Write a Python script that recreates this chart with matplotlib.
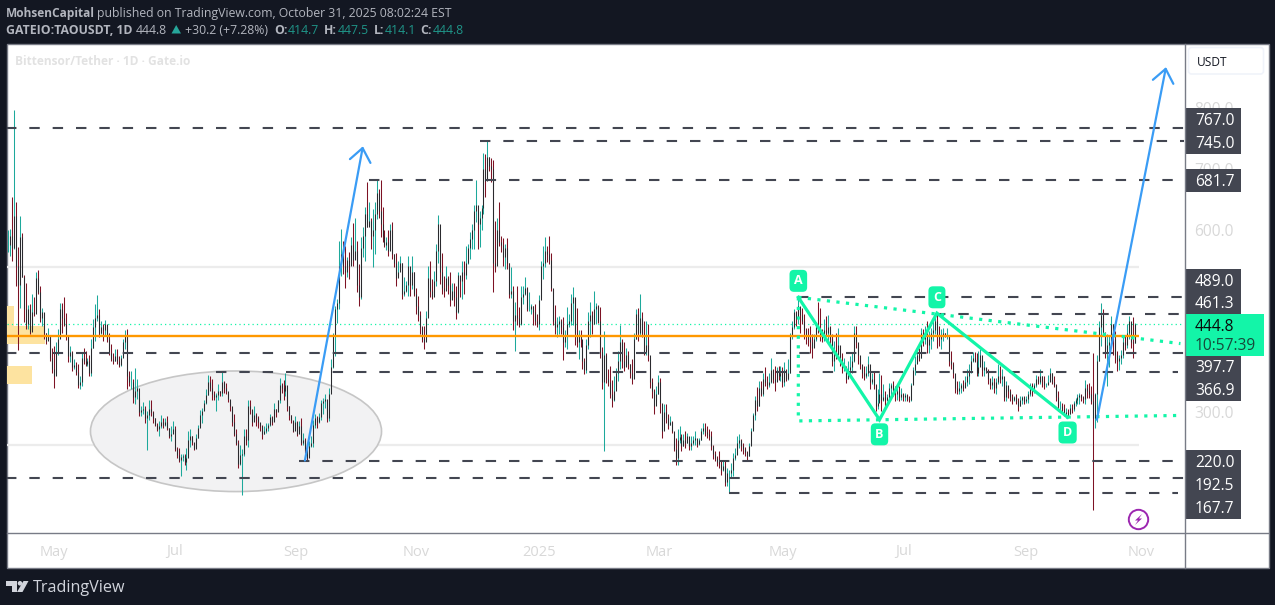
import matplotlib
matplotlib.use('Agg')
import matplotlib.pyplot as plt
import numpy as np
from matplotlib.patches import Circle, Ellipse, Polygon, Rectangle, FancyBboxPatch

plt.rcParams['font.family'] = ['Open Sans', 'DejaVu Sans']

# daily bars, TAO/USDT
highs = [
    600,601,654,797,646,572,623,595,525,512, 476,478,494,489,531,534,508,472,463,431,
    438,426,406,409,415,437,480,479,489,463, 426,409,401,387,382,379,360,398,406,401,
    390,395,420,453,478,493,470,450,445,451, 439,431,413,398,404,404,392,395,420,435,
    437,368,368,355,373,355,324,310,317,310, 302,321,320,302,291,283,286,295,291,291,
    294,275,277,286,277,244,242,231,232,231, 242,269,272,261,250,264,280,304,308,321,
    338,361,360,355,335,332,347,335,368,352, 348,330,321,305,297,272,255,247,240,272,
    272,320,321,302,311,299,294,283,280,277, 282,282,298,294,315,305,321,357,349,354,
    364,327,311,295,286,294,286,286,290,266, 258,250,253,261,288,297,294,299,321,324,
    330,308,340,387,431,475,486,582,601,582, 574,555,563,588,611,620,582,544,588,604,
    637,679,645,620,634,645,684,667,681,637, 599,588,599,610,612,560,562,549,557,546,
    522,516,557,519,557,530,505,491,467,442, 442,467,541,549,519,533,577,624,577,562,
    524,540,524,530,513,513,508,530,522,549, 549,574,577,596,610,640,681,629,631,640,
    726,725,747,719,717,714,615,620,645,589, 587,577,587,545,539,507,481,507,473,507,
    508,522,506,497,478,474,478,461,492,548, 574,588,574,590,561,503,477,456,459,453,
    457,435,473,461,495,506,488,471,435,435, 406,390,421,465,481,466,500,479,476,473,
    407,434,398,371,377,353,360,373,401,443, 420,415,406,401,379,387,431,470,471,494,
    465,450,450,445,390,357,338,343,362,357, 299,313,313,297,294,286,258,258,272,277,
    264,264,269,266,255,261,261,269,255,258, 275,282,282,277,272,269,246,236,228,236,
    222,222,222,209,206,217,233,242,261, 264,257,250,244,236,250,275,299,327,341,
    351,351,364,375,360,365,390,371,376,375, 376,376,374,382,371,387,431,450,470,467,489,
    472,471,461,439,439,442,428,428,448,481, 472,437,453,459,460,442,428,417,431,439,
    409,398,390,376,384,393,398,442,442,409, 393,376,376,376,392,371,365,368,346,338,
    365,362,346,335,330,349,349,352,343,340, 343,340,332,332,330,327,349,374,393,404,
    406,439,437,442,450,434,439,453,464,461, 442,437,439,431,439,425,401,382,360,352,
    352,349,354,360,371,379,395,399,399,398, 401,404,387,384,373,371,357,360,357,357,
    379,376,371,352,352,340,338,330,327,330, 324,327,327,327,327,335,349,349,349,362,
    360,371,360,360,349,362,373,365,360,346, 335,319,316,313,308,305,313,313,319,324,
    330,332,330,327,354,346,349,343, 398,332,395,450,479,469,432,428,425,458,
    445,434,401,395,403,423,425,445,458,445,456,447.5,
]
lows = [
    563,557,549,568,507,402,471,522,448,437, 437,428,437,459,467,494,448,442,420,412,
    420,384,365,340,365,395,431,431,442,419, 382,382,368,371,362,340,338,343,379,376,
    376,360,360,406,417,450,423,428,417,426, 415,394,384,379,384,379,375,377,395,404,
    338,343,339,316,313,322,294,294,297,283, 238,288,294,283,277,269,261,275,275,277,
    271,258,253,269,236,225,218,195,220,214, 205,231,244,247,238,242,258,277,283,304,
    313,328,335,321,321,302,321,327,327,332, 330,317,302,277,261,247,209,214,164,228,
    247,244,297,277,286,277,275,269,257,264, 266,269,277,280,288,293,302,316,332,320,
    327,302,288,283,268,280,261,269,246,247, 233,220,231,244,244,275,275,283,288,297,
    308,284,286,338,373,393,447,470,524,527, 505,522,519,544,541,557,497,474,486,555,
    549,604,607,568,538,560,618,620,588,579, 571,566,557,566,552,538,508,524,535,486,
    491,497,491,491,502,491,461,450,428,415, 404,417,459,489,486,497,508,546,511,494,
    489,508,494,475,486,475,453,464,489,486, 494,519,544,552,568,568,612,568,571,600,
    626,653,681,697,678,497,530,555,574,563, 541,536,536,488,488,435,401,443,441,443,
    478,492,466,466,461,444,444,440,435,489, 519,539,547,543,499,443,429,423,429,429,
    386,407,404,441,443,443,411,407,388,407, 371,363,365,404,423,429,446,445,446,390,
    338,236,349,343,324,309,319,343,351,371, 373,368,376,371,357,346,368,420,418,425,
    424,395,395,385,340,324,297,319,330,299, 258,286,283,272,280,266,236,214,214,250,
    236,245,242,250,239,238,247,247,244,247, 255,264,261,258,255,239,223,220,212,209,
    198,203,179,179,168,192,195,222,231, 242,236,231,228,222,228,247,272,288,302,
    310,327,327,343,338,341,349,349,335,354, 354,352,341,343,352,354,365,420,437,442,445,
    431,445,420,412,409,398,390,407,417,431, 417,415,417,426,417,412,376,368,387,401,
    376,365,368,349,357,360,365,382,406,379, 371,357,354,357,360,338,346,338,302,305,
    319,302,319,310,319,319,327,327,319,321, 319,321,319,319,319,317,319,346,362,382,
    384,390,409,412,398,398,404,417,428,406, 409,404,417,423,420,376,371,357,332,330,
    330,332,335,341,343,346,365,382,382,359, 360,384,360,360,365,346,338,338,332,330,
    346,349,343,319,319,324,319,313,319,313, 302,310,313,313,316,316,327,327,332,341,
    346,346,341,338,341,346,352,346,341,319, 302,302,299,294,291,294,297,299,302,310,
    313,313,319,316,313,324,324,313, 140,274,285,384,409,425,390,343,375,412,
    395,381,368,370,379,390,403,405,420,405,390,414.1,
]
closes = [
    575,590,570,622,540,510,588,523,470,445, 470,432,465,462,520,498,455,465,430,418,
    425,390,372,360,400,420,470,455,445,425, 392,400,375,378,367,345,350,390,385,380,
    385,365,405,440,455,460,430,440,435,445, 420,398,388,385,392,385,378,390,415,425,
    360,350,350,325,335,340,300,304,305,290, 295,305,300,290,280,273,278,285,280,285,
    275,262,265,272,240,230,222,226,228,218, 225,255,262,252,240,258,275,295,302,315,
    328,350,340,330,325,328,335,332,350,340, 335,322,310,285,265,250,215,230,232,262,
    255,310,305,285,295,290,285,278,265,270, 275,280,292,285,305,300,320,345,340,335,
    345,310,295,288,270,285,265,278,250,255, 238,225,245,250,280,290,285,292,315,318,
    322,290,330,375,425,470,480,540,560,540, 530,550,540,575,550,565,510,490,570,590,
    625,605,615,590,600,625,660,630,610,590, 575,580,565,600,560,545,520,530,545,495,
    500,510,540,510,530,495,475,460,440,420, 415,455,520,500,490,515,565,610,530,505,
    500,520,510,485,500,490,465,525,515,530, 525,545,570,585,600,630,640,610,620,635,
    700,680,720,705,700,545,540,600,580,575, 555,570,545,495,500,450,460,455,445,490,
    495,505,470,470,475,465,450,445,485,540, 545,565,560,550,505,450,440,445,450,440,
    415,425,445,450,480,490,430,415,425,420, 385,370,410,450,460,445,470,475,450,400,
    350,395,355,350,330,320,335,365,385,415, 385,375,395,380,365,355,420,462,430,455,
    430,400,410,395,350,335,310,330,350,315, 270,300,290,280,285,270,240,225,255,260,
    245,255,250,262,245,250,255,258,248,255, 270,275,268,265,262,245,232,225,218,215,
    205,212,185,200,200,205,225,230,250, 255,245,240,235,228,245,270,295,320,310,
    340,330,355,350,345,350,370,355,350,370, 360,365,350,370,355,365,425,440,465,455,475,
    460,450,435,425,420,415,405,420,440,435, 430,420,435,430,440,420,385,400,395,410,
    385,375,375,355,370,375,385,430,415,395, 380,365,360,365,380,350,355,345,310,315,
    330,320,325,320,325,340,345,335,330,335, 325,330,325,328,322,320,345,370,380,395,
    390,430,420,425,410,420,430,435,450,425, 420,425,430,425,425,385,380,365,340,335,
    340,345,340,350,360,370,385,390,385,365, 375,395,370,375,368,355,345,350,340,350,
    360,355,360,325,345,335,325,320,325,318, 310,320,325,318,322,330,345,340,345,355,
    350,360,352,345,345,350,365,350,345,325, 310,310,305,298,300,298,308,305,315,320,
    325,328,325,322,340,335,330,318, 290,330,385,440,460,430,400,410,415,445,
    420,395,385,390,395,415,410,430,450,415,414.7,444.8,
]

month_ticks = [23, 84, 145, 206, 268, 329, 391, 452, 514, 572]
month_labels = ['May', 'Jul', 'Sep', 'Nov', '2025', 'Mar', 'May', 'Jul', 'Sep', 'Nov']
price_ticks = [300, 600, 700, 800]

# horizontal levels: price and the bar they start from
level_prices = [767.0, 745.0, 681.7, 489.0, 461.3, 397.7, 366.9, 220.0, 192.5, 167.7]
level_starts = [-1, 238, 182, 399, 468, -1, 105, 147, -1, 364]
level_ends = [594, 594, 594, 594, 594, 594, 591, 594, 594, 591]

last_price = 444.8
orange_price = 425.5
faint_prices = [539, 247]

# pattern drawing
abcd_bars = [399, 440, 469, 535]
abcd_prices = [489, 288, 463, 292]
abcd_names = ['A', 'B', 'C', 'D']
abcd_label_prices = [516, 264, 489, 267]

W, H = 1275, 605
AX_L, AX_R, AX_T, AX_B = 7, 1184, 44, 532
BAR0, BAR_W = 8.3, 1.98
PX_PER_USD = 0.609
PX_AT_300 = 412.4

BG = '#131722'
GRID = '#787b86'
LEVEL = '#434651'
MINT = '#13f5a8'
BLUE = '#3a9cf5'
UP, DOWN, BODY = '#1da99b', '#7d1224', '#2a2a2e'
MUTED = '#d8d8d8'

fig = plt.figure(figsize=(W / 100, H / 100), dpi=100, facecolor=BG)

# white backing and frame, in pixels
bg = fig.add_axes([0, 0, 1, 1], zorder=-1)
bg.set_xlim(0, W)
bg.set_ylim(H, 0)
bg.axis('off')
bg.add_patch(Rectangle((6.5, 44), 1262, 524, fc='white', ec=GRID, lw=1))

ax = fig.add_axes([AX_L / W, (H - AX_B) / H, (AX_R - AX_L) / W, (AX_B - AX_T) / H], zorder=1)
ax.patch.set_alpha(0)
ax.set_xlim((AX_L - BAR0) / BAR_W, (AX_R - BAR0) / BAR_W)
ax.set_ylim(300 + (PX_AT_300 - AX_B) / PX_PER_USD, 300 + (PX_AT_300 - AX_T) / PX_PER_USD)
for s in ax.spines.values():
    s.set_visible(False)
ax.yaxis.tick_right()
ax.set_xticks(month_ticks, month_labels)
ax.set_yticks(price_ticks, ['%.1f' % p for p in price_ticks])
ax.tick_params(axis='x', length=0, pad=9, labelsize=10.5, labelcolor=MUTED)
ax.tick_params(axis='y', length=0, pad=7.5, labelsize=11.2, labelcolor=MUTED)

# supply zones
for x0, x1, p0, p1 in [(-0.7, 2.9, 441.6, 474.6), (-0.7, 18.5, 412, 441.6), (-0.7, 12, 346, 377)]:
    ax.add_patch(Rectangle((x0, p0), x1 - x0, p1 - p0, fc='#fde3a0', ec='none', zorder=1))

ax.hlines(faint_prices, -0.7, 571, color='#ececec', lw=1.6, zorder=1)
ax.hlines(last_price, -0.7, 594, color=MINT, lw=0.9, linestyles=(0, (1, 2.5)), zorder=2)

ax.add_patch(Ellipse((115, 269), 147, 198, fc='#f2f2f3', ec='#c6c6c6', lw=1.2, zorder=2))

# candles
n = min(len(highs), len(lows), len(closes))
bars = np.arange(n)
hi = np.array(highs[:n], dtype=float)
lo = np.array(lows[:n], dtype=float)
cl = np.array(closes[:n], dtype=float)
op = np.r_[cl[0], cl[:-1]]
colors = [UP if c >= o else DOWN for o, c in zip(op, cl)]
ax.vlines(bars, lo, hi, colors=colors, lw=0.75, zorder=3, snap=True)
ax.vlines(bars, np.minimum(op, cl), np.maximum(op, cl), colors=BODY, lw=0.75, zorder=4, snap=True)

for p, x0, x1 in zip(level_prices, level_starts, level_ends):
    ax.plot([x0, x1], [p, p], color=LEVEL, lw=1.5, ls=(0, (5, 6.2)), dash_capstyle='butt', zorder=5)

ax.hlines(orange_price, -0.7, 571, color='#ff9800', lw=1.7, zorder=6)

# pattern
ax.plot(abcd_bars, abcd_prices, color=MINT, lw=2.3, solid_joinstyle='miter', zorder=7)
dot = dict(color=MINT, lw=2.3, ls=(0, (1, 2)), dash_capstyle='butt', zorder=7)
ax.plot([399, 592], [489, 413], **dot)
ax.plot([399, 399, 592], [489, 286, 295], **dot)
for b, p, name in zip(abcd_bars, abcd_label_prices, abcd_names):
    ax.text(b, p, name, color='white', fontsize=9, fontweight='bold', ha='center', va='center', zorder=9,
            bbox=dict(boxstyle='round,pad=0.36', fc=MINT, ec='none'))

# projections
arrow = dict(arrowstyle='->,head_length=0.95,head_width=0.75', color=BLUE, lw=1.6, shrinkA=0, shrinkB=0)
ax.annotate('', xy=(179.1, 737), xytext=(149.8, 221), arrowprops=arrow, zorder=8)
ax.annotate('', xy=(584.7, 867), xytext=(549.8, 288), arrowprops=arrow, zorder=8)

# right scale, header, footer, in pixels
ov = fig.add_axes([0, 0, 1, 1], zorder=2)
ov.patch.set_alpha(0)
ov.set_xlim(0, W)
ov.set_ylim(H, 0)
ov.axis('off')
ov.plot([AX_R + .5, AX_R + .5], [44, 568], color=GRID, lw=1)
ov.plot([7, 1268], [AX_B + .5, AX_B + .5], color=GRID, lw=1)

ov.add_patch(FancyBboxPatch((1188.5, 47.5), 75, 26.5, boxstyle='round,pad=0,rounding_size=3', fc='white', ec='#f0f3fa', lw=1.2))
ov.text(1197, 61, 'USDT', color='#131722', fontsize=8.6, va='center_baseline')

price_boxes = [('767.0', 119.5), ('745.0', 142.5), ('681.7', 180.5), ('489.0', 280), ('461.3', 303),
               ('397.7', 367), ('366.9', 389.5), ('220.0', 461.5), ('192.5', 484.5), ('167.7', 507.5)]
for label, yc in price_boxes:
    ov.add_patch(Rectangle((1185, yc - 11.5), 56, 23, fc=LEVEL, ec='none'))
    ov.text(1195, yc - 0.5, label, color='white', fontsize=11.2, va='center_baseline')
ov.add_patch(Rectangle((1185, 314), 79, 42, fc=MINT, ec='none'))
ov.text(1195, 325, '444.8', color='#0b0b0b', fontsize=11.2, va='center_baseline')
ov.text(1195, 344, '10:57:39', color='#17493a', fontsize=11.2, va='center_baseline')

# lightning mark
ov.add_patch(Circle((1138.5, 519.5), 9.7, fc='white', ec='#9c27b0', lw=1.4))
ov.add_patch(Polygon([(1142, 514), (1135, 520.5), (1138, 520.5), (1135, 525), (1142, 518.5), (1139, 518.5)],
                     fc='#9c27b0', ec='none'))

ov.text(15, 60, 'Bittensor/Tether · 1D · Gate.io', color='#e2e2e2', fontsize=8.6, fontweight='bold', va='center_baseline')

GREY = '#b2b5be'
GREEN = '#1f9488'
ov.text(6, 12.5, 'MohsenCapital', color=GREY, fontsize=8.6, fontweight='bold', va='center_baseline')
ov.text(97, 12.5, 'published on TradingView.com, October 31, 2025 08:02:24 EST', color=GREY, fontsize=8.85, va='center_baseline')
header = [(6, 'GATEIO:TAOUSDT, 1D', GREY, 'bold'), (136, '444.8', GREY, 'normal'), (185, '+30.2 (+7.28%)', GREY, 'normal'),
          (274, 'O:', GREY, 'bold'), (288, '414.7', GREEN, 'normal'), (324, 'H:', GREY, 'bold'), (338, '447.5', GREEN, 'normal'),
          (374, 'L:', GREY, 'bold'), (385, '414.1', GREEN, 'normal'), (420, 'C:', GREY, 'bold'), (433, '444.8', GREEN, 'normal')]
for x, s, c, w in header:
    ov.text(x, 29.5, s, color=c, fontsize=8.85, fontweight=w, va='center_baseline')
ov.add_patch(Polygon([(171.5, 33.5), (181, 33.5), (176.2, 25)], fc='#26a69a', ec='none'))

# logo
LOGO = '#d1d4dc'
ov.add_patch(Polygon([(6, 581), (17, 581), (17, 592), (12, 592), (12, 585.5), (6, 585.5)], fc=LOGO, ec='none'))
ov.add_patch(Circle((20, 583.3), 2.3, fc=LOGO, ec='none'))
ov.add_patch(Polygon([(23.5, 581), (28.5, 581), (22.5, 592), (17, 592)], fc=LOGO, ec='none'))
ov.text(33, 586, 'TradingView', color=LOGO, fontsize=11.6, fontweight='medium', va='center_baseline')

fig.savefig('out.png', dpi=100, facecolor=fig.get_facecolor())
